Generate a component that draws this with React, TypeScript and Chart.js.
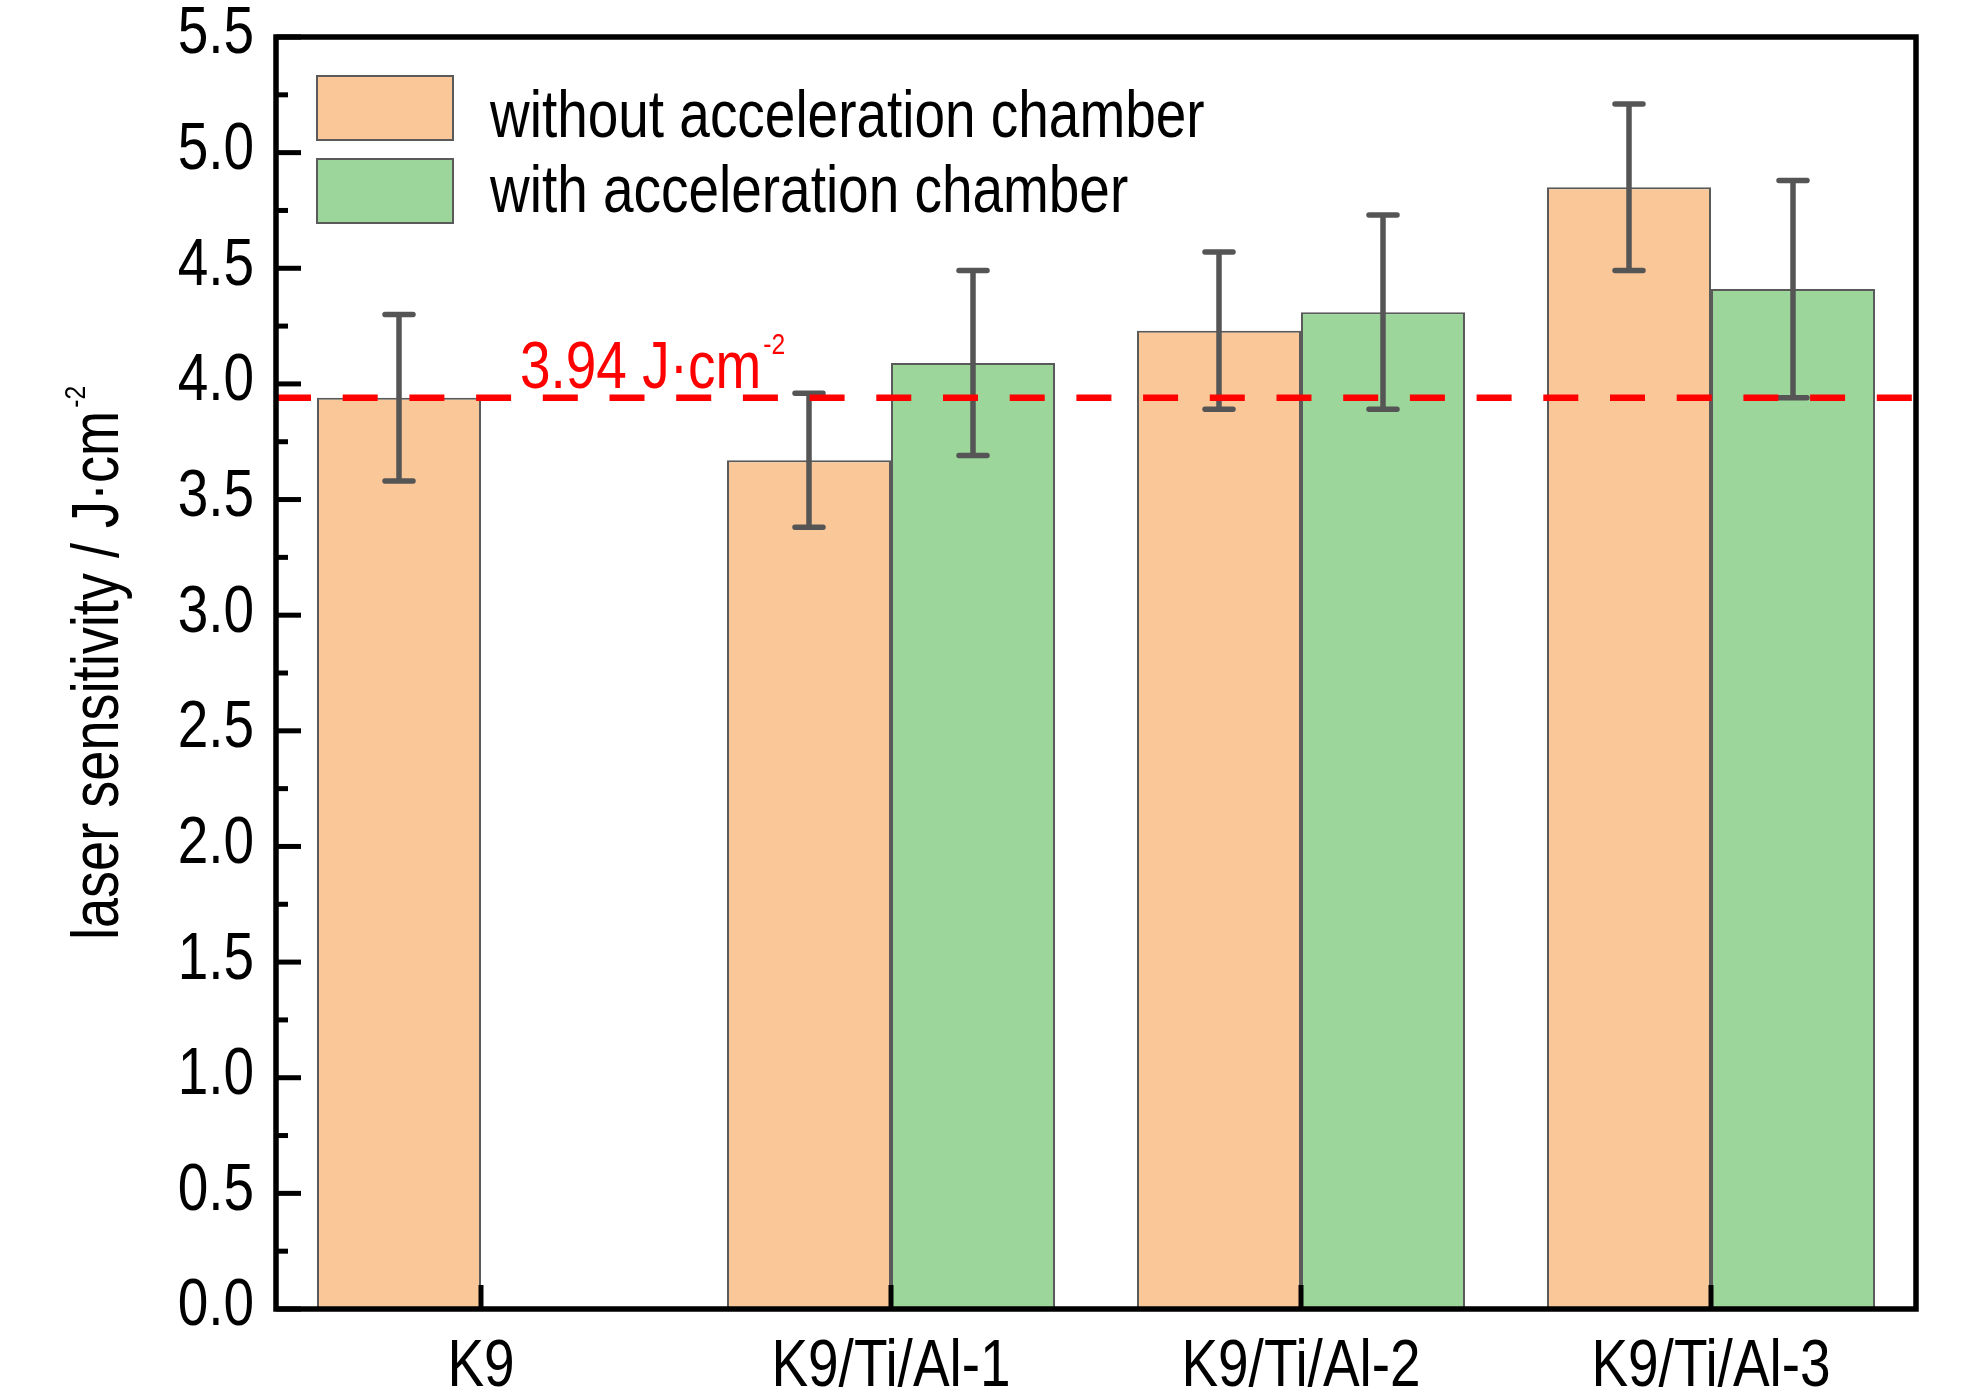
import { useEffect, useRef } from "react";
import { Chart, registerables } from "chart.js";

Chart.register(...registerables);

const categories = ["K9", "K9/Ti/Al-1", "K9/Ti/Al-2", "K9/Ti/Al-3"];
const seriesNames = ["without acceleration chamber", "with acceleration chamber"];
const withoutChamber = [3.94, 3.67, 4.23, 4.85];
const withoutChamberErr = [0.36, 0.29, 0.34, 0.36];
const withChamber = [null, 4.09, 4.31, 4.41];
const withChamberErr = [null, 0.4, 0.42, 0.47];
const threshold = 3.94;
const thresholdLabel = "3.94 J·cm";
const thresholdSup = "-2";
const yTitle = "laser sensitivity / J·cm";
const yTitleSup = "-2";

// no narrow face installed, so Liberation Sans is squeezed to look like Arial Narrow
const FONT = '"Liberation Sans", Arial, sans-serif';
const NARROW = 0.82;
const ORANGE = "#fac898";
const GREEN = "#9dd69a";
const EDGE = "#5a5a5a";

function narrowText(
    ctx: CanvasRenderingContext2D,
    text: string,
    x: number,
    y: number,
    size: number,
    align: CanvasTextAlign = "left",
    baseline: CanvasTextBaseline = "alphabetic"
) {
    ctx.save();
    ctx.translate(x, y);
    ctx.scale(NARROW, 1);
    ctx.font = `${size}px ${FONT}`;
    ctx.textAlign = align;
    ctx.textBaseline = baseline;
    ctx.fillText(text, 0, 0);
    const w = ctx.measureText(text).width * NARROW;
    ctx.restore();
    return w;
}

// error bars, threshold line, frame, ticks, legend and labels
const overlay = {
    id: "overlay",
    afterDatasetsDraw(chart: any) {
        const { ctx, chartArea, scales } = chart;
        const y = scales.y;
        const errs = [withoutChamberErr, withChamberErr];
        ctx.save();
        ctx.strokeStyle = "#555555";
        ctx.lineWidth = 5.5;
        ctx.lineCap = "round";
        chart.data.datasets.forEach((ds: any, i: number) => {
            const meta = chart.getDatasetMeta(i);
            ds.data.forEach((v: number | null, j: number) => {
                const e = errs[i][j];
                if (v == null || e == null) return;
                const x = meta.data[j].x;
                const yt = y.getPixelForValue(v + e);
                const yb = y.getPixelForValue(v - e);
                ctx.beginPath();
                ctx.moveTo(x, yt);
                ctx.lineTo(x, yb);
                ctx.moveTo(x - 14, yt);
                ctx.lineTo(x + 14, yt);
                ctx.moveTo(x - 14, yb);
                ctx.lineTo(x + 14, yb);
                ctx.stroke();
            });
        });
        ctx.restore();

        // threshold dashed line
        const ty = y.getPixelForValue(threshold);
        ctx.save();
        ctx.strokeStyle = "#ff0000";
        ctx.lineWidth = 6.5;
        ctx.setLineDash([35, 31.7]);
        ctx.beginPath();
        ctx.moveTo(chartArea.left, ty);
        ctx.lineTo(chartArea.right, ty);
        ctx.stroke();
        ctx.restore();
    },
    afterDraw(chart: any) {
        const { ctx, chartArea, scales } = chart;
        const { left, right, top, bottom } = chartArea;
        const y = scales.y;
        const x = scales.x;
        ctx.save();
        ctx.strokeStyle = "#000";
        ctx.lineWidth = 5;
        ctx.lineCap = "butt";
        // y ticks, major + minor, pointing in
        for (let v = 0; v <= 5.5 + 1e-6; v += 0.25) {
            const major = Math.abs(v * 2 - Math.round(v * 2)) < 1e-6;
            const py = y.getPixelForValue(v);
            ctx.beginPath();
            ctx.moveTo(left, py);
            ctx.lineTo(left + (major ? 25 : 12), py);
            ctx.stroke();
        }
        // x ticks
        categories.forEach((_, i) => {
            const px = x.getPixelForValue(i);
            ctx.beginPath();
            ctx.moveTo(px, bottom);
            ctx.lineTo(px, bottom - 24);
            ctx.stroke();
        });
        // frame
        ctx.lineWidth = 5.5;
        ctx.strokeRect(left, top, right - left, bottom - top);
        ctx.restore();

        // tick labels
        ctx.save();
        ctx.fillStyle = "#000";
        y.ticks.forEach((t: any) => {
            narrowText(ctx, Number(t.value).toFixed(1), left - 22, y.getPixelForValue(t.value) - 2, 67, "right", "middle");
        });
        categories.forEach((c, i) => {
            narrowText(ctx, c, x.getPixelForValue(i), bottom + 77, 67, "center");
        });
        ctx.restore();

        // threshold label
        const ty = y.getPixelForValue(threshold);
        ctx.save();
        ctx.fillStyle = "#ff0000";
        const lx = left + 244;
        const lw = narrowText(ctx, thresholdLabel, lx, ty - 10, 67);
        narrowText(ctx, thresholdSup, lx + lw + 2, ty - 44, 30);
        ctx.restore();

        // legend
        ctx.save();
        const colors = [ORANGE, GREEN];
        const boxTops = [top + 39, top + 122];
        const baselines = [top + 100, top + 175];
        seriesNames.forEach((name, i) => {
            ctx.fillStyle = colors[i];
            ctx.fillRect(left + 41, boxTops[i], 136, 64);
            ctx.strokeStyle = EDGE;
            ctx.lineWidth = 2;
            ctx.strokeRect(left + 41, boxTops[i], 136, 64);
            ctx.fillStyle = "#000";
            narrowText(ctx, name, left + 214, baselines[i], 67);
        });
        ctx.restore();

        // y axis title with superscript
        ctx.save();
        ctx.fillStyle = "#000";
        ctx.font = `66px ${FONT}`;
        const mw = ctx.measureText(yTitle).width * NARROW;
        ctx.font = `30px ${FONT}`;
        const sw = ctx.measureText(yTitleSup).width * NARROW;
        const total = mw + 3 + sw;
        ctx.translate(left - 158, (top + bottom) / 2 - 10);
        ctx.rotate(-Math.PI / 2);
        narrowText(ctx, yTitle, -total / 2, 0, 66);
        narrowText(ctx, yTitleSup, -total / 2 + mw + 3, -33, 30);
        ctx.restore();
    },
};

export default function App() {
    const canvasRef = useRef<HTMLCanvasElement>(null);

    useEffect(() => {
        if (!canvasRef.current) return;
        const chart = new Chart(canvasRef.current, {
            type: "bar",
            data: {
                labels: categories,
                datasets: [
                    {
                        label: seriesNames[0],
                        data: withoutChamber,
                        backgroundColor: ORANGE,
                        borderColor: EDGE,
                        borderWidth: 2,
                        barPercentage: 1,
                        categoryPercentage: 0.8,
                    },
                    {
                        label: seriesNames[1],
                        data: withChamber,
                        backgroundColor: GREEN,
                        borderColor: EDGE,
                        borderWidth: 2,
                        barPercentage: 1,
                        categoryPercentage: 0.8,
                    },
                ],
            },
            options: {
                responsive: false,
                animation: false,
                devicePixelRatio: 1,
                layout: { padding: { top: 37, right: 68, left: 0, bottom: 0 } },
                plugins: {
                    legend: { display: false },
                    tooltip: { enabled: false },
                },
                scales: {
                    x: {
                        grid: { display: false, drawTicks: false },
                        border: { display: false },
                        ticks: { display: false },
                        afterFit: (s: any) => {
                            s.height = 85;
                            s.paddingLeft = 0;
                            s.paddingRight = 0;
                        },
                    },
                    y: {
                        min: 0,
                        max: 5.5,
                        grid: { display: false, drawTicks: false },
                        border: { display: false },
                        ticks: { display: false, stepSize: 0.5 },
                        afterFit: (s: any) => {
                            s.width = 276;
                            s.paddingTop = 0;
                            s.paddingBottom = 0;
                        },
                    },
                },
            },
            plugins: [overlay],
        } as any);
        return () => chart.destroy();
    }, []);

    return (
        <div style={{ position: "absolute", left: 0, top: 0, width: 1984, height: 1394, background: "#fff" }}>
            <canvas ref={canvasRef} width={1984} height={1394} style={{ display: "block" }} />
        </div>
    );
}
